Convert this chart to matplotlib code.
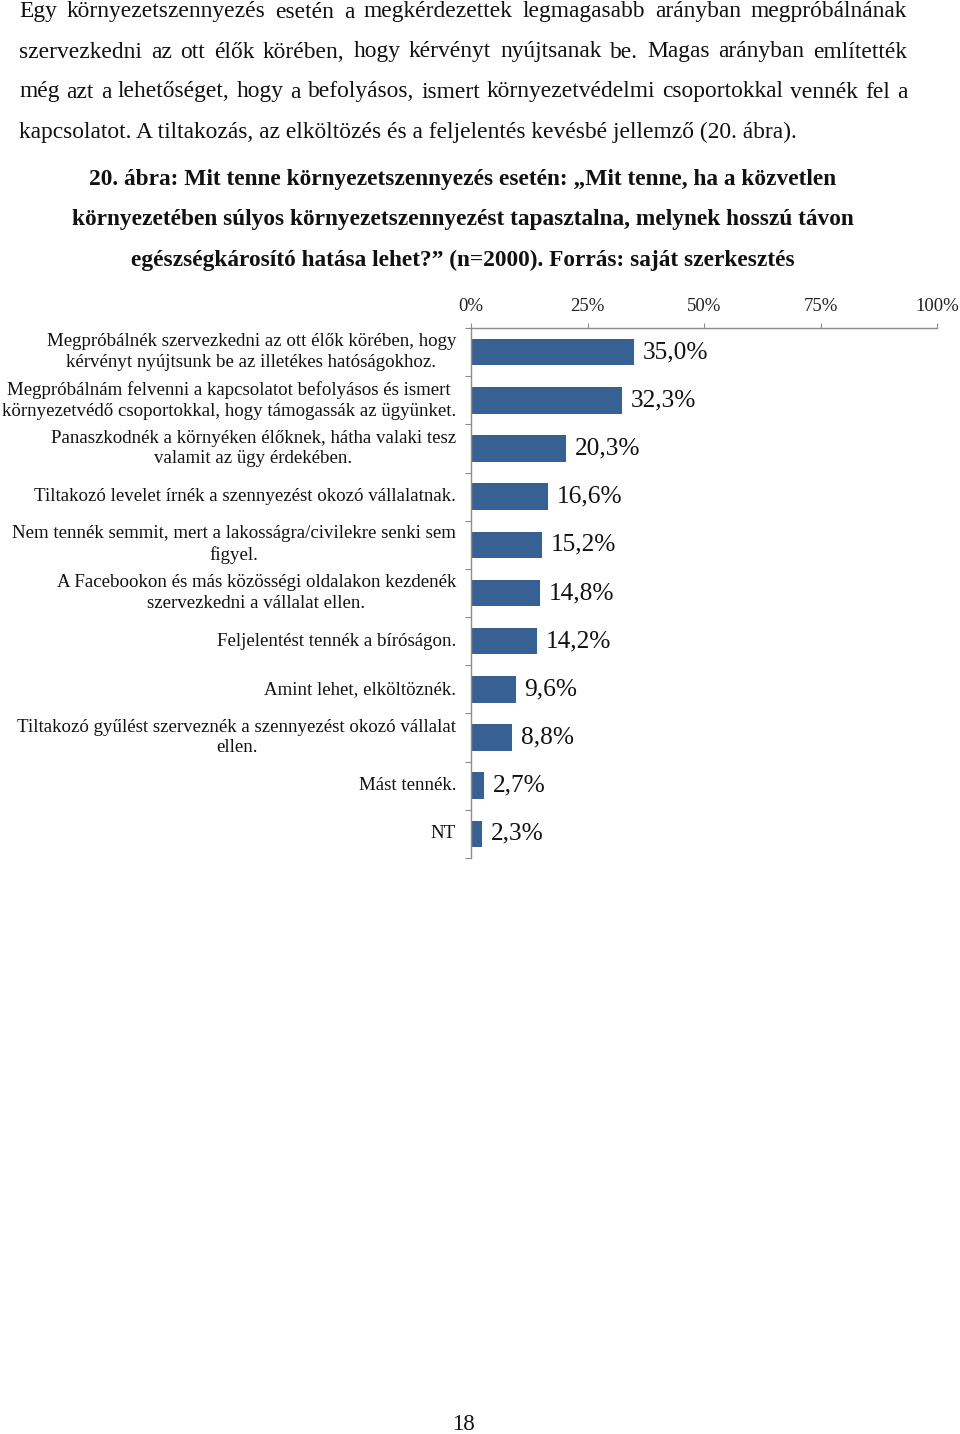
import matplotlib
matplotlib.use("Agg")
import matplotlib.pyplot as plt

categories = [
    "Megpróbálnék szervezkedni az ott élők körében, hogy\nkérvényt nyújtsunk be az illetékes hatóságokhoz.",
    "Megpróbálnám felvenni a kapcsolatot befolyásos és ismert\nkörnyezetvédő csoportokkal, hogy támogassák az ügyünket.",
    "Panaszkodnék a környéken élőknek, hátha valaki tesz\nvalamit az ügy érdekében.",
    "Tiltakozó levelet írnék a szennyezést okozó vállalatnak.",
    "Nem tennék semmit, mert a lakosságra/civilekre senki sem\nfigyel.",
    "A Facebookon és más közösségi oldalakon kezdenék\nszervezkedni a vállalat ellen.",
    "Feljelentést tennék a bíróságon.",
    "Amint lehet, elköltöznék.",
    "Tiltakozó gyűlést szerveznék a szennyezést okozó vállalat\nellen.",
    "Mást tennék.",
    "NT",
]
values = [35.0, 32.3, 20.3, 16.6, 15.2, 14.8, 14.2, 9.6, 8.8, 2.7, 2.3]
xticks = [0, 25, 50, 75, 100]
xtick_labels = ["0%", "25%", "50%", "75%", "100%"]

paragraph_lines = [
    "Egy környezetszennyezés esetén a megkérdezettek legmagasabb arányban megpróbálnának",
    "szervezkedni az ott élők körében, hogy kérvényt nyújtsanak be. Magas arányban említették",
    "még azt a lehetőséget, hogy a befolyásos, ismert környezetvédelmi csoportokkal vennék fel a",
    "kapcsolatot. A tiltakozás, az elköltözés és a feljelentés kevésbé jellemző (20. ábra).",
]
caption_lines = [
    "20. ábra: Mit tenne környezetszennyezés esetén: „Mit tenne, ha a közvetlen",
    "környezetében súlyos környezetszennyezést tapasztalna, melynek hosszú távon",
    "egészségkárosító hatása lehet?” (n=2000). Forrás: saját szerkesztés",
]
page_number = "18"

W, H = 960, 1434
fig = plt.figure(figsize=(W / 100, H / 100), dpi=100)
fig.patch.set_facecolor("white")
SERIF = ["Liberation Serif", "DejaVu Serif"]
BAR = "#386193"
AXC = "#8c8c8c"
TXT = "#111111"

def fx(px):
    return px / W

def fy(py):
    return 1 - py / H

renderer = fig.canvas.get_renderer()

# Paragraph (justified except last line)
left_px, right_px = 19, 907
para_y = [12, 52, 92, 132]
PFS = 16.9
for i, line in enumerate(paragraph_lines):
    y = fy(para_y[i])
    if i == len(paragraph_lines) - 1:
        fig.text(fx(left_px), y, line, fontsize=PFS, family=SERIF, ha="left", va="center", color=TXT)
        continue
    words = line.split(" ")
    objs = [fig.text(0, y, w, fontsize=PFS, family=SERIF, ha="left", va="center", color=TXT) for w in words]
    widths = [o.get_window_extent(renderer).width for o in objs]
    gap = (right_px - left_px - sum(widths)) / (len(words) - 1)
    x = left_px
    for o, wd in zip(objs, widths):
        o.set_x(fx(x))
        x += wd + gap

# Caption
cap_y = [179, 219, 260]
for i, line in enumerate(caption_lines):
    fig.text(fx(463), fy(cap_y[i]), line, fontsize=16.8, family=SERIF, weight="bold",
             ha="center", va="center", color=TXT)

fig.text(fx(463), fy(1424), page_number, fontsize=16.5, family=SERIF, ha="center", va="center", color=TXT)

# Chart axes
x0_px, x100_px = 471, 937
top_px, bot_px = 328, 858
ax = fig.add_axes([fx(x0_px), fy(bot_px), fx(x100_px - x0_px), (bot_px - top_px) / H])
n = len(values)
ypos = list(range(n))
ax.barh(ypos, values, height=0.55, color=BAR, edgecolor="none")
ax.set_xlim(0, 100)
ax.set_ylim(n - 0.5, -0.5)
ax.xaxis.tick_top()
ax.set_xticks(xticks)
ax.set_xticklabels(xtick_labels, family=SERIF, fontsize=13.5)
ax.tick_params(axis="x", direction="out", length=3.5, color=AXC, pad=6, labelcolor="#222222")
ax.set_yticks([i - 0.5 for i in range(n + 1)])
ax.set_yticklabels([])
ax.tick_params(axis="y", direction="out", length=4, color=AXC)
for s in ["right", "bottom"]:
    ax.spines[s].set_visible(False)
for s in ["top", "left"]:
    ax.spines[s].set_color(AXC)
    ax.spines[s].set_linewidth(1)

for i, (v, c) in enumerate(zip(values, categories)):
    ax.text(v + 1.9, i, f"{v:.1f}%".replace(".", ","), family=SERIF, fontsize=18.3,
            ha="left", va="center", color=TXT)
    ax.text(-3.2, i, c, family=SERIF, fontsize=13.6, ha="right", va="center",
            multialignment="center", color=TXT, linespacing=1.3)

fig.savefig("out.png", dpi=100, facecolor="white")
